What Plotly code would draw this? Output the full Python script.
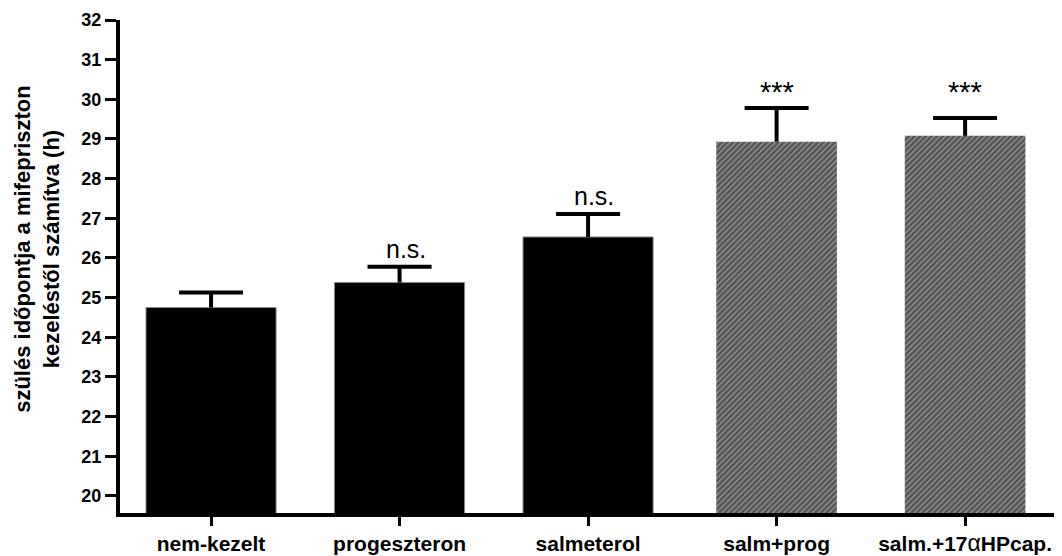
import plotly.graph_objects as go

categories = ["nem-kezelt", "progeszteron", "salmeterol", "salm+prog", "salm.+17αHPcap."]
means = [24.75, 25.38, 26.53, 28.93, 29.08]
sem = [0.38, 0.40, 0.58, 0.85, 0.45]
sig_labels = ["", "n.s.", "n.s.", "***", "***"]
y_ticks = list(range(20, 33))

FONT = "Arial, 'Liberation Sans', sans-serif"

tick_text = [
    "<b>nem-kezelt</b>",
    "<b>progeszteron</b>",
    "<b>salmeterol</b>",
    "<b>salm+prog</b>",
    "<b>salm.+17</b><span style='font-size:23px'>α</span><b>HPcap.</b>",
]

fig = go.Figure()

solid_idx = [0, 1, 2]
hatch_idx = [3, 4]

# bars with error stems (no caps)
fig.add_trace(go.Bar(
    x=[categories[i] for i in solid_idx],
    y=[means[i] for i in solid_idx],
    base=0,
    width=0.69,
    marker=dict(color="black", line=dict(color="#888", width=1)),
    error_y=dict(type="data", symmetric=False,
                 array=[sem[i] for i in solid_idx],
                 arrayminus=[0] * len(solid_idx),
                 color="black", thickness=4, width=0),
    showlegend=False, hoverinfo="skip",
))
fig.add_trace(go.Bar(
    x=[categories[i] for i in hatch_idx],
    y=[means[i] for i in hatch_idx],
    base=0,
    width=0.64,
    marker=dict(color="#333", line=dict(width=0),
                pattern=dict(shape="/", fgcolor="#000", bgcolor="#a8a8a8",
                             size=4, solidity=0.72)),
    error_y=dict(type="data", symmetric=False,
                 array=[sem[i] for i in hatch_idx],
                 arrayminus=[0] * len(hatch_idx),
                 color="black", thickness=4, width=0),
    showlegend=False, hoverinfo="skip",
))
# caps at the top of each error bar
fig.add_trace(go.Scatter(
    x=categories,
    y=[m + s for m, s in zip(means, sem)],
    mode="markers",
    marker=dict(size=0.1, color="rgba(0,0,0,0)"),
    error_y=dict(type="data", array=[0] * len(categories), arrayminus=[0] * len(categories),
                 color="black", thickness=4, width=32),
    showlegend=False, hoverinfo="skip",
))

star_level = max(means[i] + sem[i] for i in range(len(categories)) if sig_labels[i] == "***")
for i, lab in enumerate(sig_labels):
    if not lab:
        continue
    if lab == "***":
        yv, ys, fs, xs = star_level, -2, 29, 0
    else:
        yv, ys, fs, xs = means[i] + sem[i], 2, 25, 6
    fig.add_annotation(x=categories[i], y=yv, text=lab, showarrow=False,
                       yanchor="bottom", yshift=ys, xshift=xs,
                       font=dict(family=FONT, size=fs, color="black"))

fig.add_annotation(
    xref="paper", yref="paper", x=-0.088, y=0.536,
    xanchor="center", yanchor="middle", textangle=-90, showarrow=False,
    text="<b>szülés időpontja a mifepriszton<br>kezeléstől számítva (h)</b>",
    font=dict(family=FONT, size=22, color="black"),
)

fig.update_layout(
    width=1054, height=548,
    margin=dict(l=112, r=0, t=12, b=38),
    paper_bgcolor="white", plot_bgcolor="white",
    font=dict(family=FONT, color="black"),
    barmode="overlay",
)
fig.update_xaxes(
    categoryorder="array", categoryarray=categories,
    tickvals=categories, ticktext=tick_text,
    range=[-0.483, 4.514],
    showline=True, linecolor="black", linewidth=4,
    ticks="outside", ticklen=9, tickwidth=3, tickcolor="black",
    tickfont=dict(family=FONT, size=21, color="black"),
    showgrid=False, zeroline=False,
)
fig.update_yaxes(
    range=[19.57, 32],
    tickvals=y_ticks, ticktext=[f"<b>{v}</b>" for v in y_ticks],
    showline=True, linecolor="black", linewidth=4,
    ticks="outside", ticklen=11, tickwidth=3, tickcolor="black",
    tickfont=dict(family=FONT, size=18, color="black"),
    showgrid=False, zeroline=False,
)

fig.write_html("out.html")
